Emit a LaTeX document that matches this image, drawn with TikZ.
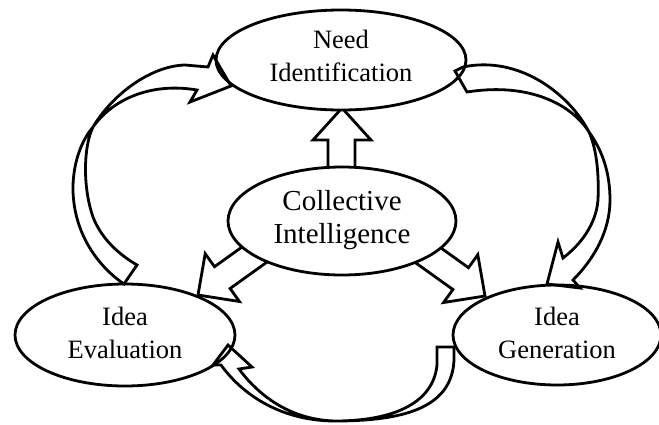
\documentclass[tikz,border=0pt]{standalone}
\usepackage{fontspec}
\setmainfont{Liberation Serif}
\usetikzlibrary{shapes.geometric}
\begin{document}
\begin{tikzpicture}[x=1pt,y=-1pt,
  stage/.style={ellipse, draw, line width=2.8pt, fill=white, inner sep=0pt,
    align=center, font=\fontsize{26.5}{33}\selectfont},
  hub/.style={stage, font=\fontsize{29}{33}\selectfont},
  blockarrow/.style={draw, line width=2.8pt, fill=white, line join=miter},
  loop/.style={draw, line width=2.8pt, line join=miter}]
\useasboundingbox (0,0) rectangle (659,424);

% straight block arrows leaving the hub
\draw[blockarrow] (328,172) -- (328,140) -- (313,140) -- (342,108)
  -- (371,140) -- (355,140) -- (355,172) -- cycle;
\draw[blockarrow] (263.1,231.9) -- (278.7,253.7) -- (230.1,288.5) -- (239.4,301.5)
  -- (198,295) -- (205.2,253.7) -- (214.5,266.7) -- cycle;
\draw[blockarrow] (419.9,232.9) -- (404.3,254.7) -- (452.9,289.5) -- (443.6,302.5)
  -- (485,296) -- (477.8,254.7) -- (468.5,267.7) -- cycle;

% the four stages
\node[stage, minimum width=250pt, minimum height=100pt, text depth=9pt]
  (need) at (341,60) {Need\\Identification};
\node[hub, minimum width=228pt, minimum height=108pt, text depth=9pt]
  (ci) at (342,221) {Collective\\Intelligence};
\node[stage, minimum width=220pt, minimum height=102pt, text depth=5pt]
  (eval) at (125,335) {Idea\\Evaluation};
\node[stage, minimum width=208pt, minimum height=100pt, text depth=5pt]
  (gen) at (557,335) {Idea\\Generation};

% curved arrow: evaluation -> need identification
\draw[loop] (124,284)
  .. controls (96,265) and (72,230) .. (73,185)
  .. controls (74,160) and (82,140) .. (93,127)
  .. controls (112,100) and (150,82) .. (197,90)
  -- (190,102) -- (231,86) -- (213,55) -- (208,67) -- (185,65)
  .. controls (150,66) and (112,95) .. (93,127)
  .. controls (84,145) and (82,185) .. (93,217)
  .. controls (102,240) and (120,255) .. (137,265)
  -- cycle;

% curved arrow: need identification -> generation
\draw[loop] (455,71) -- (463,67)
  .. controls (520,55) and (570,95) .. (589,132)
  .. controls (597,150) and (599,175) .. (598,200)
  .. controls (596,225) and (580,245) .. (563,258)
  -- (558,242) -- (547,284) -- (580,288) -- (573,280)
  .. controls (595,258) and (610,230) .. (610,200)
  .. controls (610,172) and (602,150) .. (589,132)
  .. controls (572,105) and (530,82) .. (467,92)
  -- cycle;

% curved arrow: generation -> evaluation
\draw[loop] (437,347) -- (454,347) -- (454,360)
  .. controls (452,405) and (410,421) .. (335,421)
  .. controls (295,420) and (262,400) .. (239,369)
  -- (252,367) -- (228,345) -- (213,365) -- (221,365)
  .. controls (245,398) and (285,421) .. (335,421)
  .. controls (390,421) and (433,405) .. (437,365)
  -- cycle;
\end{tikzpicture}
\end{document}
